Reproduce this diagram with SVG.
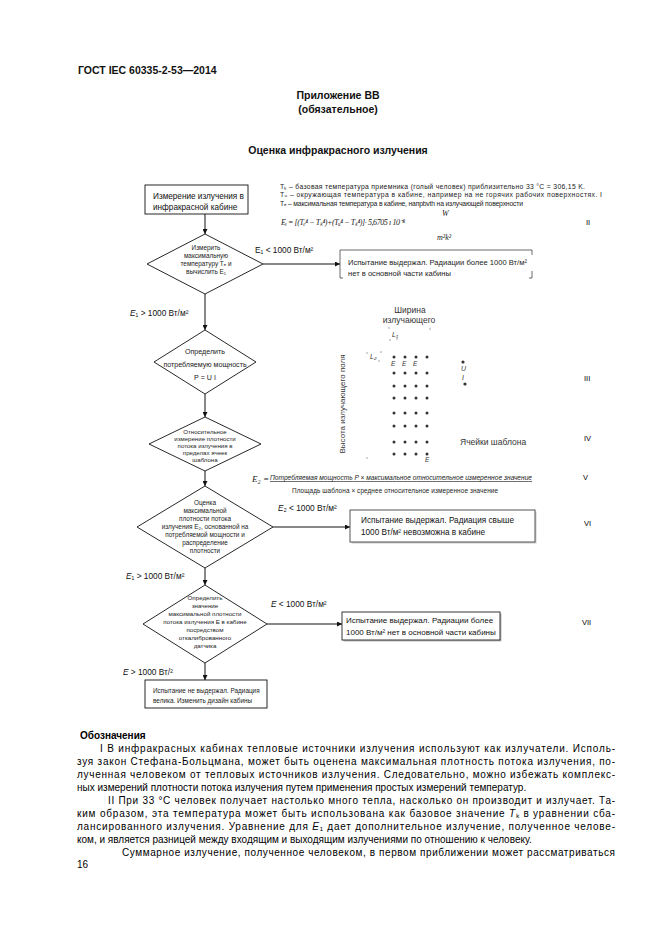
<svg xmlns="http://www.w3.org/2000/svg" width="661" height="935" viewBox="0 0 661 935">
<defs>
<style>
text{font-family:"Liberation Sans",Arial,sans-serif;fill:#111}
.hb{font-weight:bold;font-size:10.5px}
.sm{font-size:6.8px;fill:#222}
.dt{font-size:6.4px;text-anchor:middle;fill:#222}
.bx{font-size:8.2px;fill:#111}
.lb{font-size:8.3px;fill:#111}
.rn{font-size:7.5px;fill:#000}
.gr{font-size:8.5px;fill:#333}
.nt{font-size:10px;fill:#000}
.it{font-style:italic}
.serif{font-family:"Liberation Serif","Times New Roman",serif}
.node{fill:#fff;stroke:#111;stroke-width:0.9}
.con{fill:none;stroke:#111;stroke-width:1;marker-end:url(#ah)}
.dot{fill:#333}
.mk{fill:#999}
</style>
<marker id="ah" viewBox="0 0 10 10" refX="10" refY="5" markerWidth="5" markerHeight="5" orient="auto" markerUnits="userSpaceOnUse">
<path d="M0,0 L10,5 L0,10 z" fill="#111"/>
</marker>
</defs>
<rect width="661" height="935" fill="#fff"/>

<g id="header">
<text class="hb" x="78" y="74">ГОСТ IEC 60335-2-53—2014</text>
<text class="hb" x="338" y="99" text-anchor="middle">Приложение ВВ</text>
<text class="hb" x="338" y="113" text-anchor="middle">(обязательное)</text>
<text class="hb" x="338" y="154" text-anchor="middle">Оценка инфракрасного излучения</text>
</g>

<g id="connectors">
<line class="con" x1="205" y1="214" x2="205" y2="234"/>
<line class="con" x1="263" y1="264" x2="340" y2="264"/>
<line class="con" x1="205" y1="294" x2="205" y2="330"/>
<line class="con" x1="205" y1="394" x2="205" y2="417"/>
<line class="con" x1="205" y1="471" x2="205" y2="486"/>
<line class="con" x1="273" y1="527" x2="350" y2="527"/>
<line class="con" x1="205" y1="568" x2="205" y2="585"/>
<line class="con" x1="267" y1="624" x2="342" y2="624"/>
<line class="con" x1="205" y1="663" x2="205" y2="680"/>
</g>

<g id="node-measure">
<rect class="node" x="145" y="185" width="103" height="29"/>
<text class="bx" x="153" y="199">Измерение излучения в</text>
<text class="bx" x="153" y="210">инфракрасной кабине</text>
</g>

<g id="node-d1">
<polygon class="node" points="205,234 263,264 205,294 147,264"/>
<text class="dt" x="206" y="250">Измерить</text>
<text class="dt" x="206" y="258">максимальную</text>
<text class="dt" x="206" y="266">температуру Tₑ и</text>
<text class="dt" x="206" y="274">вычислить E₁</text>
</g>

<g id="node-pass1">
<path d="M340,250 H532 M340,250 V278 H343 M532,250 V255 M532,271 V278 H529" fill="none" stroke="#444" stroke-width="0.8"/>
<text class="sm" x="348" y="265" style="font-size:7.6px">Испытание выдержал. Радиации более 1000 Вт/м²</text>
<text class="sm" x="348" y="275.5" style="font-size:7.6px">нет в основной части кабины</text>
</g>

<g id="node-d2">
<polygon class="node" points="205,330 256,362 205,394 154,362"/>
<text class="dt" x="205" y="354" style="font-size:7.1px">Определить</text>
<text class="dt" x="205" y="367" style="font-size:7.1px">потребляемую мощность</text>
<text class="dt" x="205" y="380" style="font-size:7.1px">P = U I</text>
</g>

<g id="node-d3">
<polygon class="node" points="205,417 261,444 205,471 149,444"/>
<text class="dt" x="205" y="434" style="font-size:6.1px">Относительное</text>
<text class="dt" x="205" y="441" style="font-size:6.1px">измерение плотности</text>
<text class="dt" x="205" y="448" style="font-size:6.1px">потока излучения в</text>
<text class="dt" x="205" y="455" style="font-size:6.1px">пределах  ячеек</text>
<text class="dt" x="205" y="462" style="font-size:6.1px">шаблона</text>
</g>

<g id="node-d4">
<polygon class="node" points="205,486 273,527 205,568 137,527"/>
<text class="dt" x="205" y="505">Оценка</text>
<text class="dt" x="205" y="513">максимальной</text>
<text class="dt" x="205" y="521">плотности  потока</text>
<text class="dt" x="205" y="529">излучения E₂, основанной на</text>
<text class="dt" x="205" y="537">потребляемой мощности  и</text>
<text class="dt" x="205" y="545">распределение</text>
<text class="dt" x="205" y="553">плотности</text>
</g>

<g id="node-pass2">
<rect x="351.5" y="511.5" width="185" height="32" fill="#ccc"/>
<rect x="350" y="510" width="185" height="32" fill="#fff" stroke="#555" stroke-width="1"/>
<text class="bx" x="361" y="523">Испытание выдержал. Радиация свыше</text>
<text class="bx" x="361" y="535">1000 Вт/м² невозможна в кабине</text>
</g>

<g id="node-d5">
<polygon class="node" points="205,585 267,624 205,663 143,624"/>
<text class="dt" x="205" y="600" style="font-size:6.2px">Определить</text>
<text class="dt" x="205" y="608" style="font-size:6.2px">значение</text>
<text class="dt" x="205" y="616" style="font-size:6.2px">максимальной  плотности</text>
<text class="dt" x="205" y="624" style="font-size:6.2px">потока излучения E  в кабине</text>
<text class="dt" x="205" y="632" style="font-size:6.2px">посредством</text>
<text class="dt" x="205" y="640" style="font-size:6.2px">откалиброванного</text>
<text class="dt" x="205" y="648" style="font-size:6.2px">датчика</text>
</g>

<g id="node-pass3">
<rect x="343.5" y="613.5" width="158" height="28" fill="#bbb"/>
<rect x="342" y="612" width="158" height="28" fill="#fff" stroke="#222" stroke-width="0.9"/>
<text class="bx" x="346" y="623" style="font-size:8px">Испытание выдержал. Радиации более</text>
<text class="bx" x="346" y="635" style="font-size:8px">1000 Вт/м² нет в основной части кабины</text>
</g>

<g id="node-fail">
<rect class="node" x="145" y="680" width="122" height="28"/>
<text class="sm" x="153" y="693" style="font-size:6.4px">Испытание не выдержал. Радиация</text>
<text class="sm" x="153" y="703" style="font-size:6.4px">велика. Изменить дизайн кабины</text>
</g>

<g id="labels">
<text class="lb" x="255" y="253">E₁ &lt; 1000 Вт/м²</text>
<text class="lb" x="130" y="316"><tspan class="it">E</tspan>₁ &gt; 1000 Вт/м²</text>
<text class="lb" x="278" y="511"><tspan class="it">E</tspan>₂ &lt; 1000 Вт/м²</text>
<text class="lb" x="126" y="579"><tspan class="it">E</tspan>₁ &gt; 1000 Вт/м²</text>
<text class="lb" x="271" y="607"><tspan class="it">E</tspan> &lt; 1000 Вт/м²</text>
<text class="lb" x="123" y="675"><tspan class="it">E</tspan> &gt; 1000 Вт/²</text>
</g>

<g id="formula-top">
<text class="sm" x="280" y="189" textLength="305">Tₖ – базовая температура приемника (голый человек) приблизительно 33 °C = 306,15 K.</text>
<text class="sm" x="280" y="197" textLength="322">Tᵤ – окружающая температура в кабине, например на не горячих рабочих поверхностях. I</text>
<text class="sm" x="280" y="206" textLength="243">Tₑ – максимальная температура в кабине, напрbvth на излучающей поверхности</text>
<text class="serif it" x="281" y="225" textLength="124" style="font-size:8px;fill:#222">Eᵢ = [(Tₑ⁴ − Tₖ⁴)+(Tᵤ⁴ − Tₖ⁴)]· 5,6705 ı  10⁻⁸</text>
<text class="serif it" x="442" y="216" style="font-size:8px;fill:#222">W</text>
<text class="serif it" x="437" y="240" style="font-size:8px;fill:#222">m²k²</text>
</g>

<g id="roman">
<text class="rn" x="586" y="225">II</text>
<text class="rn" x="584" y="381">III</text>
<text class="rn" x="584" y="441">IV</text>
<text class="rn" x="583" y="480">V</text>
<text class="rn" x="584" y="526">VI</text>
<text class="rn" x="582" y="625">VII</text>
</g>

<g id="template">
<text class="gr" x="410" y="313" text-anchor="middle">Ширина</text>
<text class="gr" x="409" y="323" text-anchor="middle">излучающего</text>
<circle class="mk" cx="389" cy="328" r="0.8"/>
<circle class="mk" cx="430" cy="329" r="0.8"/>
<circle class="mk" cx="390" cy="340" r="0.8"/>
<circle class="mk" cx="397" cy="339" r="0.8"/>
<text class="it" x="392" y="337" style="font-size:7px;fill:#333">L₁</text>
<circle class="mk" cx="367" cy="353" r="0.8"/>
<circle class="mk" cx="381" cy="352" r="0.8"/>
<circle class="mk" cx="379" cy="361" r="0.8"/>
<text class="it" x="370" y="359" style="font-size:7px;fill:#333">L₂</text>
<text class="gr" transform="translate(345,404) rotate(-90)" text-anchor="middle" style="font-size:8px">Высота излучающего поля</text>
<circle class="mk" cx="367" cy="458" r="0.8"/>
<g>
<circle class="dot" cx="394" cy="357" r="1.5"/><circle class="dot" cx="405" cy="357" r="1.5"/><circle class="dot" cx="416" cy="357" r="1.5"/><circle class="dot" cx="427" cy="357" r="1.5"/>
<circle class="dot" cx="394" cy="373" r="1.5"/><circle class="dot" cx="405" cy="373" r="1.5"/><circle class="dot" cx="416" cy="373" r="1.5"/><circle class="dot" cx="427" cy="373" r="1.5"/>
<circle class="dot" cx="394" cy="386" r="1.5"/><circle class="dot" cx="405" cy="386" r="1.5"/><circle class="dot" cx="416" cy="386" r="1.5"/><circle class="dot" cx="427" cy="386" r="1.5"/>
<circle class="dot" cx="394" cy="398" r="1.5"/><circle class="dot" cx="405" cy="398" r="1.5"/><circle class="dot" cx="416" cy="398" r="1.5"/><circle class="dot" cx="427" cy="398" r="1.5"/>
<circle class="dot" cx="394" cy="413" r="1.5"/><circle class="dot" cx="405" cy="413" r="1.5"/><circle class="dot" cx="416" cy="413" r="1.5"/><circle class="dot" cx="427" cy="413" r="1.5"/>
<circle class="dot" cx="394" cy="426" r="1.5"/><circle class="dot" cx="405" cy="426" r="1.5"/><circle class="dot" cx="416" cy="426" r="1.5"/><circle class="dot" cx="427" cy="426" r="1.5"/>
<circle class="dot" cx="394" cy="442" r="1.5"/><circle class="dot" cx="405" cy="442" r="1.5"/><circle class="dot" cx="416" cy="442" r="1.5"/><circle class="dot" cx="427" cy="442" r="1.5"/>
<circle class="dot" cx="394" cy="454" r="1.5"/><circle class="dot" cx="405" cy="454" r="1.5"/><circle class="dot" cx="416" cy="454" r="1.5"/><circle class="dot" cx="427" cy="454" r="1.5"/>
</g>
<text class="it" x="391" y="366" style="font-size:6.5px;fill:#333">E</text>
<text class="it" x="402" y="366" style="font-size:6.5px;fill:#333">E</text>
<text class="it" x="413" y="366" style="font-size:6.5px;fill:#333">E</text>
<text class="it" x="425" y="462" style="font-size:6.5px;fill:#333">E</text>
<circle class="dot" cx="463" cy="362" r="1.6"/>
<text class="it" x="461" y="371" style="font-size:7px;fill:#333">U</text>
<text class="it" x="462" y="380" style="font-size:7px;fill:#333">I</text>
<circle class="dot" cx="465" cy="384" r="1.6"/>
<text class="gr" x="460" y="445">Ячейки шаблона</text>
</g>

<g id="formula-e2">
<text class="serif it" x="252" y="482" style="font-size:9px;fill:#222">E₂ =</text>
<text class="sm it" x="270" y="480" textLength="262" style="font-size:6.6px;text-decoration:underline">Потребляемая мощность P × максимальное относительное измеренное значение</text>
<text class="sm" x="292" y="493" textLength="206" style="font-size:6.4px">Площадь шаблона × среднее относительное измеренное значение</text>
</g>

<g id="notes">
<text class="nt" x="80" y="739" style="font-weight:bold">Обозначения</text>
<text class="nt" x="100" y="752" textLength="515">I  В инфракрасных кабинах тепловые источники излучения используют как излучатели. Исполь-</text>
<text class="nt" x="77" y="765" textLength="538">зуя закон Стефана-Больцмана, может быть оценена максимальная плотность потока излучения, по-</text>
<text class="nt" x="77" y="778" textLength="538">лученная человеком от тепловых источников излучения. Следовательно, можно избежать комплекс-</text>
<text class="nt" x="77" y="791">ных измерений плотности потока излучения путем применения простых измерений температур.</text>
<text class="nt" x="108" y="804" textLength="507">II  При 33 °C человек получает настолько много тепла, насколько он производит и излучает. Та-</text>
<text class="nt" x="77" y="817" textLength="538">ким образом, эта температура может быть использована как базовое значение <tspan class="it">T</tspan>ₖ в уравнении сба-</text>
<text class="nt" x="77" y="830" textLength="538">лансированного излучения. Уравнение для <tspan class="it">E</tspan>₁ дает дополнительное излучение, полученное челове-</text>
<text class="nt" x="77" y="843">ком, и является разницей между входящим и выходящим излучениями по отношению к человеку.</text>
<text class="nt" x="122" y="856" textLength="493">Суммарное излучение, полученное человеком, в первом приближении может рассматриваться</text>
<text class="nt" x="77" y="868">16</text>
</g>
</svg>
